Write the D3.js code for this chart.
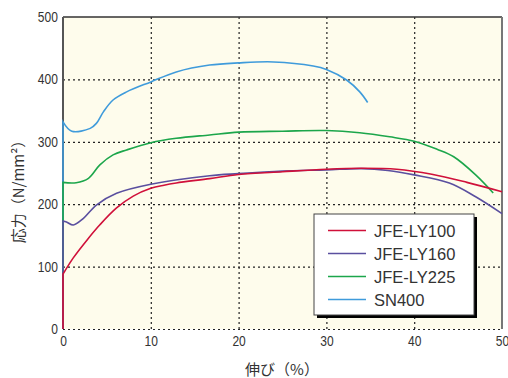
<!DOCTYPE html>
<html>
<head>
<meta charset="utf-8">
<script src="https://cdn.jsdelivr.net/npm/d3@7/dist/d3.min.js"></script>
<style>
body { margin: 0; background: #fff; }
svg { display: block; }
</style>
</head>
<body>
<svg id="chart" width="508" height="378"></svg>
<script>
// tick values
const xTicks = [0, 10, 20, 30, 40, 50];
const yTicks = [0, 100, 200, 300, 400, 500];

// series (elongation %, stress N/mm2), first point is the origin
const seriesNames = ["JFE-LY100", "JFE-LY160", "JFE-LY225", "SN400"];
const seriesColors = ["#d0103a", "#5a4f9f", "#1ca64b", "#3f9bdb"];

const ly100X = [0, 0, 1.17, 2.7, 4.2, 6.1, 8, 10, 11.5, 12.9, 16.7, 20, 25, 30, 34, 38, 42, 46, 50];
const ly100Y = [0, 88, 114, 142, 167, 194, 213, 225.5, 230.5, 234, 241, 247.5, 252, 256, 257.5, 256, 248, 235, 220];

const ly160X = [0, 0, 0.4, 1.17, 2.3, 3.8, 6.1, 10, 16.7, 20, 25, 30, 34, 37, 40, 44, 47, 50];
const ly160Y = [0, 173, 171.5, 166.7, 177, 198.7, 217.5, 232, 245.7, 249, 253, 255, 257, 254, 247, 234, 212, 185];

const ly225X = [0, 0, 1.5, 2.9, 4.2, 5.7, 7.25, 10, 12.9, 16.7, 20, 25, 30, 33.8, 37.2, 40, 42.6, 44.5, 47, 49];
const ly225Y = [0, 235, 234.5, 241.5, 263, 279, 287, 298.6, 305.6, 311, 315.5, 317, 318, 314.5, 308, 301, 288, 276, 247, 218];

const sn400X = [0, 0, 1, 3.1, 3.8, 4.6, 5.7, 7.25, 10, 12.9, 16.7, 20, 24, 28.5, 30, 32.3, 33.8, 34.7];
const sn400Y = [0, 332, 317, 321.5, 329.5, 348, 367, 380, 396, 412, 423, 426.5, 428, 421.5, 416, 399, 380, 363];

const seriesX = [ly100X, ly160X, ly225X, sn400X];
const seriesY = [ly100Y, ly160Y, ly225Y, sn400Y];

const svg = d3.select("#chart");
const margin = {left: 63, right: 6, top: 17, bottom: 49};
const W = 508, H = 378;

const x = d3.scaleLinear().domain([0, 50]).range([margin.left, W - margin.right]);
const y = d3.scaleLinear().domain([0, 500]).range([H - margin.bottom, margin.top]);

// plot background
svg.append("rect")
  .attr("x", x(0)).attr("y", y(500))
  .attr("width", x(50) - x(0)).attr("height", y(0) - y(500))
  .attr("fill", "#fefcec");

// dotted grid
const grid = svg.append("g").attr("stroke", "#222").attr("stroke-width", 1.2).attr("stroke-dasharray", "2,3");
grid.selectAll(".gx").data(xTicks.filter(d => d > 0 && d < 50)).enter().append("line")
  .attr("x1", d => x(d) + 0.5).attr("x2", d => x(d) + 0.5)
  .attr("y1", y(500)).attr("y2", y(0));
grid.selectAll(".gy").data(yTicks.filter(d => d < 500)).enter().append("line")
  .attr("x1", x(0)).attr("x2", x(50))
  .attr("y1", d => y(d) + 0.5).attr("y2", d => y(d) + 0.5);

// frame: top and left dark, right gray
svg.append("line").attr("x1", x(0)).attr("x2", x(50)).attr("y1", y(500)).attr("y2", y(500))
  .attr("stroke", "#333").attr("stroke-width", 1.5);
svg.append("line").attr("x1", x(50)).attr("x2", x(50)).attr("y1", y(500)).attr("y2", y(0))
  .attr("stroke", "#777").attr("stroke-width", 2);
svg.append("line").attr("x1", x(0)).attr("x2", x(0)).attr("y1", y(500)).attr("y2", y(0))
  .attr("stroke", "#555").attr("stroke-width", 2);

// curves, red on top
const line = d3.line().x(d => x(d[0])).y(d => y(d[1])).curve(d3.curveCatmullRom.alpha(0.5));
const curves = svg.append("g").attr("fill", "none").attr("stroke-width", 1.6);
for (let i = seriesNames.length - 1; i >= 0; i--) {
  const pts = seriesX[i].map((v, k) => [v, seriesY[i][k]]);
  // vertical rise from the origin, then the smooth curve
  const rest = line(pts.slice(1));
  const d = "M" + x(pts[0][0]) + "," + y(pts[0][1]) + "L" + rest.slice(1);
  curves.append("path").attr("d", d).attr("stroke", seriesColors[i]);
}

// axes labels (squeezed a little, the original digits are narrow)
const numFont = "'Liberation Sans', Arial, sans-serif";
const yAxis = d3.axisLeft(y).tickValues(yTicks).tickSize(0).tickPadding(6);
const gy = svg.append("g").attr("transform", `translate(${x(0)},0)`).call(yAxis);
gy.select(".domain").remove();
gy.selectAll("text").attr("font-family", numFont).attr("font-size", 14).attr("fill", "#333")
  .attr("transform", "scale(0.86,1)");

const xAxis = d3.axisBottom(x).tickValues(xTicks).tickSize(0).tickPadding(7);
const gx = svg.append("g").attr("transform", `translate(0,${y(0)})`).call(xAxis);
gx.select(".domain").remove();
gx.selectAll("text").attr("font-family", numFont).attr("font-size", 14).attr("fill", "#333")
  .attr("transform", "scale(0.86,1)");

// axis titles
const cjk = "'Noto Sans CJK JP', 'Noto Sans', sans-serif";
svg.append("text").attr("x", 282).attr("y", 375)
  .attr("text-anchor", "middle").attr("font-family", cjk).attr("font-size", 15).attr("fill", "#333")
  .text("伸び（%）");
svg.append("text").attr("transform", "translate(24,188) rotate(-90)")
  .attr("text-anchor", "middle").attr("font-family", cjk).attr("font-size", 15).attr("fill", "#333")
  .text("応力（N/mm²）");

// legend
const lg = svg.append("g").attr("transform", "translate(314,214)");
lg.append("rect").attr("x", 3).attr("y", 3).attr("width", 160).attr("height", 101).attr("fill", "#000");
lg.append("rect").attr("x", 0).attr("y", 0).attr("width", 160).attr("height", 101)
  .attr("fill", "#fff").attr("stroke", "#444").attr("stroke-width", 1);
const rows = lg.selectAll(".row").data(seriesNames).enter().append("g")
  .attr("transform", (d, i) => `translate(0,${16.5 + i * 23})`);
rows.append("line").attr("x1", 14).attr("x2", 52).attr("y1", 0).attr("y2", 0)
  .attr("stroke", (d, i) => seriesColors[i]).attr("stroke-width", 1.6);
rows.append("text").attr("x", 60).attr("y", 6).attr("font-family", "'Liberation Sans', Arial, sans-serif")
  .attr("font-size", 16.5).attr("fill", "#333").text(d => d);
</script>
</body>
</html>
